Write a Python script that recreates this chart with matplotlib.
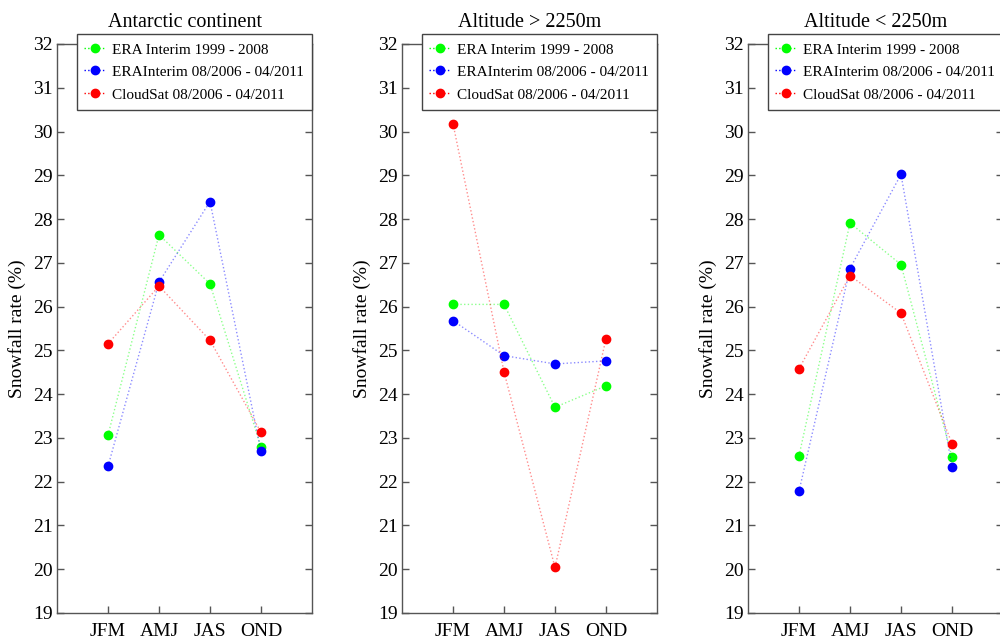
import numpy as np
import matplotlib
matplotlib.use('Agg')
import matplotlib.pyplot as plt

plt.rcParams['font.family'] = ['Liberation Serif', 'DejaVu Serif']

seasons = ['JFM', 'AMJ', 'JAS', 'OND']
titles = ['Antarctic continent', 'Altitude > 2250m', 'Altitude < 2250m']
labels = ['ERA Interim 1999 - 2008', 'ERAInterim 08/2006 - 04/2011', 'CloudSat 08/2006 - 04/2011']
colors = ['#00ff00', '#0000ff', '#ff0000']

# snowfall rate (%) per season, one list per panel
era_long = [[23.06, 27.64, 26.52, 22.79],
            [26.05, 26.05, 23.70, 24.19],
            [22.59, 27.91, 26.96, 22.56]]
era_short = [[22.35, 26.56, 28.40, 22.69],
             [25.68, 24.88, 24.69, 24.76],
             [21.78, 26.87, 29.02, 22.33]]
cloudsat = [[25.15, 26.47, 25.23, 23.13],
            [30.18, 24.51, 20.04, 25.27],
            [24.58, 26.71, 25.85, 22.87]]

fig = plt.figure(figsize=(10, 6.42), dpi=100)
lefts = [0.057, 0.402, 0.748]
x = np.arange(1, 5)
for i in range(3):
    ax = fig.add_axes([lefts[i], 0.0452, 0.255, 0.8863])
    for ser, c in zip([era_long[i], era_short[i], cloudsat[i]], colors):
        ax.plot(x, ser, ':', color=c, alpha=0.45, lw=1)
        ax.plot(x, ser, 'o', color=c, ms=6, mec=c)
    # legend entries: dotted line + marker
    handles = [plt.Line2D([], [], ls=':', lw=1, color=c, marker='o', ms=6, mec=c) for c in colors]
    ax.set_xlim(0, 5)
    ax.set_ylim(19, 32)
    ax.set_xticks(x)
    ax.set_xticklabels(seasons)
    ax.set_yticks(range(19, 33))
    ax.tick_params(direction='in', length=5, width=1, color='#555555', labelsize=14,
                   right=True, top=False)
    ax.tick_params(axis='y', pad=3)
    ax.tick_params(axis='x', pad=7)
    for s in ax.spines.values():
        s.set_color('#555555')
        s.set_linewidth(1)
    ax.set_title(titles[i], fontsize=14.5, pad=12)
    ax.set_ylabel('Snowfall rate (%)', fontsize=14, labelpad=5)
    leg = ax.legend(handles, labels, loc='upper right', bbox_to_anchor=(1.0, 1.0 + 10 / 569),
                    borderaxespad=0, fancybox=False, framealpha=1, edgecolor='#444444',
                    fontsize=11, handlelength=1.35, handletextpad=0.5, labelspacing=0.5,
                    handleheight=1.0, borderpad=0.5)
    leg.get_frame().set_linewidth(1)

fig.savefig('out.png', dpi=100)
